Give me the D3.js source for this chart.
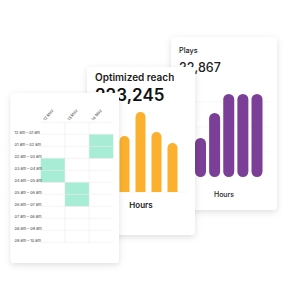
<!DOCTYPE html>
<html>
<head>
<meta charset="utf-8">
<script src="https://cdn.jsdelivr.net/npm/d3@7"></script>
<style>
  html, body { margin: 0; padding: 0; background: #fff; }
  svg { display: block; font-family: Inter, "Noto Sans", sans-serif; }
</style>
</head>
<body>
<div id="chart"></div>
<script>
// Plays card (back)
const playsTitle = "Plays";
const playsTotal = "22,867";
const playsHours = ["h1", "h2", "h3", "h4", "h5"];
const playsValues = [39, 64, 83, 83, 83];

// Optimized reach card (middle)
const reachTitle = "Optimized reach";
const reachTotal = "223,245";
const reachHours = ["h1", "h2", "h3", "h4"];
const reachValues = [56, 80, 60, 49];

// heatmap card (front)
const dates = ["12 May", "13 May", "14 May"];
const slots = ["12 am – 01 am", "01 am – 02 am", "02 am – 03 am", "03 am – 04 am", "04 am – 05 am",
  "05 am – 06 am", "06 am – 07 am", "07 am – 08 am", "08 am – 09 am", "09 am – 10 am"];
const activeSlots = {
  "12 May": ["03 am – 04 am", "04 am – 05 am"],
  "13 May": ["05 am – 06 am", "06 am – 07 am"],
  "14 May": ["01 am – 02 am", "02 am – 03 am"]
};

const width = 290, height = 300;

const svg = d3.select("#chart").append("svg")
  .attr("width", width)
  .attr("height", height);

const defs = svg.append("defs");
const shadow = defs.append("filter").attr("id", "shadow")
  .attr("x", "-20%").attr("y", "-20%").attr("width", "140%").attr("height", "140%");
shadow.append("feDropShadow")
  .attr("dx", 0).attr("dy", 2).attr("stdDeviation", 3)
  .attr("flood-color", "#000").attr("flood-opacity", 0.13);

function card(x, y, w, h) {
  const g = svg.append("g");
  g.append("rect")
    .attr("x", x).attr("y", y).attr("width", w).attr("height", h)
    .attr("rx", 4).attr("fill", "#fff")
    .attr("filter", "url(#shadow)");
  return g;
}

// ---- Plays card ----
const plays = card(171, 37, 106, 173);
plays.append("text").attr("x", 179).attr("y", 52.5)
  .attr("font-size", 7.3).attr("font-weight", 500).attr("fill", "#222")
  .text(playsTitle);
plays.append("text").attr("x", 179).attr("y", 72)
  .attr("font-size", 12.5).attr("font-weight", 500).attr("fill", "#222")
  .text(playsTotal);

const playsX = d3.scalePoint().domain(playsHours).range([200.5, 257]);
const playsY = d3.scaleLinear().domain([0, 100]).range([177, 77]);
const playsBarW = 11;

plays.selectAll("line.grid")
  .data([25, 50, 75])
  .enter().append("line")
  .attr("class", "grid")
  .attr("x1", 178).attr("x2", 270)
  .attr("y1", d => playsY(d)).attr("y2", d => playsY(d))
  .attr("stroke", "#f4f4f4").attr("stroke-width", 0.6);

plays.selectAll("rect.bar")
  .data(playsValues)
  .enter().append("rect")
  .attr("class", "bar")
  .attr("x", (d, i) => playsX(playsHours[i]) - playsBarW / 2)
  .attr("y", d => playsY(d))
  .attr("width", playsBarW)
  .attr("height", d => playsY(0) - playsY(d))
  .attr("rx", playsBarW / 2)
  .attr("fill", "#7b3f97");

plays.append("text").attr("x", 224).attr("y", 197)
  .attr("text-anchor", "middle")
  .attr("font-size", 7).attr("font-weight", 500).attr("fill", "#222")
  .text("Hours");

// ---- Optimized reach card ----
const reach = card(87, 67, 108, 168);
reach.append("text").attr("x", 95).attr("y", 81)
  .attr("font-size", 10).attr("font-weight", 600).attr("fill", "#1a1a1a")
  .text(reachTitle);
reach.append("text").attr("x", 95).attr("y", 101)
  .attr("font-size", 17).attr("font-weight", 600).attr("fill", "#111")
  .text(reachTotal);

const reachX = d3.scalePoint().domain(reachHours).range([124.5, 172.5]);
const reachY = d3.scaleLinear().domain([0, 100]).range([192, 92]);
const reachBarW = 10;

defs.append("clipPath").attr("id", "reachClip")
  .append("rect").attr("x", 87).attr("y", 67).attr("width", 108).attr("height", 192 - 67);

reach.append("line")
  .attr("x1", 95).attr("x2", 188)
  .attr("y1", reachY(0)).attr("y2", reachY(0))
  .attr("stroke", "#f1f1f1").attr("stroke-width", 0.6);

reach.append("g").attr("clip-path", "url(#reachClip)")
  .selectAll("rect")
  .data(reachValues)
  .enter().append("rect")
  .attr("x", (d, i) => reachX(reachHours[i]) - reachBarW / 2)
  .attr("y", d => reachY(d))
  .attr("width", reachBarW)
  .attr("height", d => reachY(0) - reachY(d) + reachBarW)
  .attr("rx", reachBarW / 2)
  .attr("fill", "#fbb12d");

reach.append("text").attr("x", 141).attr("y", 207.5)
  .attr("text-anchor", "middle")
  .attr("font-size", 8).attr("font-weight", 600).attr("fill", "#1a1a1a")
  .text("Hours");

// ---- heatmap card ----
const heat = card(10.7, 93, 108.3, 170);

const colX = d3.scaleBand().domain(dates).range([40.7, 113.3]);
const rowY = d3.scaleBand().domain(slots).range([122.3, 242.3]);

// cells
const cells = [];
dates.forEach(d => slots.forEach(s => {
  cells.push({ date: d, slot: s, on: activeSlots[d].includes(s) });
}));

heat.selectAll("rect.cell")
  .data(cells.filter(c => c.on))
  .enter().append("rect")
  .attr("class", "cell")
  .attr("x", d => colX(d.date))
  .attr("y", d => rowY(d.slot))
  .attr("width", colX.bandwidth())
  .attr("height", rowY.bandwidth())
  .attr("fill", "#a7ecd4");

// grid lines
heat.selectAll("line.h")
  .data(slots.concat(["end"]))
  .enter().append("line")
  .attr("class", "h")
  .attr("x1", 40.7).attr("x2", 113.3)
  .attr("y1", (d, i) => rowY.range()[0] + i * rowY.step())
  .attr("y2", (d, i) => rowY.range()[0] + i * rowY.step())
  .attr("stroke", "#e9e9e9").attr("stroke-width", 0.5);

heat.selectAll("line.v")
  .data(dates.slice(1))
  .enter().append("line")
  .attr("class", "v")
  .attr("x1", d => colX(d)).attr("x2", d => colX(d))
  .attr("y1", 122.3).attr("y2", 242.3)
  .attr("stroke", "#e9e9e9").attr("stroke-width", 0.5);

// row labels
heat.selectAll("text.row")
  .data(slots)
  .enter().append("text")
  .attr("class", "row")
  .attr("x", 14.5)
  .attr("y", d => rowY(d) + rowY.bandwidth() - 0.3)
  .attr("font-size", 3.9).attr("fill", "#3a3a3a")
  .text(d => d);

// column labels
heat.selectAll("text.col")
  .data(dates)
  .enter().append("text")
  .attr("class", "col")
  .attr("transform", d => `translate(${colX(d) + 4.5},${121})rotate(-52)`)
  .attr("font-size", 4).attr("fill", "#3a3a3a")
  .text(d => d);
</script>
</body>
</html>
